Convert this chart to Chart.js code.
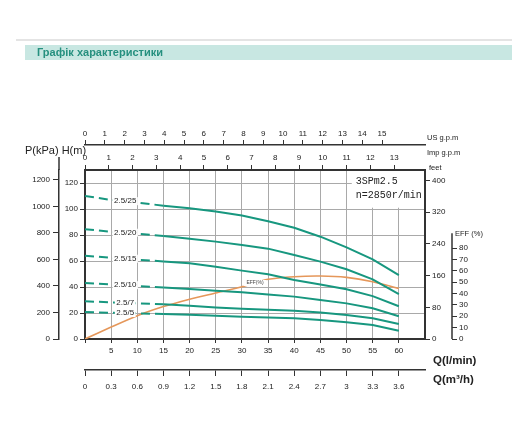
<!DOCTYPE html>
<html>
<head>
<meta charset="utf-8">
<script src="https://cdn.jsdelivr.net/npm/chart.js@4.4.1/dist/chart.umd.min.js"></script>
<style>
  html, body { margin: 0; padding: 0; background: #ffffff; }
  #wrap { position: relative; width: 512px; height: 428px; }
</style>
</head>
<body>
<div id="wrap"><canvas id="c" width="512" height="428"></canvas></div>
<script>
// ---------------- DATA ----------------
const TITLE = 'Графік характеристики';
const MODEL = '3SPm2.5';
const SPEED = 'n=2850r/min';

const Q_LPM = [0, 5, 10, 15, 20, 25, 30, 35, 40, 45, 50, 55, 60];
const CURVE_NAMES = ['2.5/25', '2.5/20', '2.5/15', '2.5/10', '2.5/7', '2.5/5'];
const H_25 = [110, 107, 105, 102.5, 100.5, 98, 95, 90.5, 85.6, 78.7, 70.5, 61.3, 49.2];
const H_20 = [84.5, 82.5, 81, 79.2, 77.2, 74.9, 72.3, 69.5, 64.6, 59.5, 53.6, 45.9, 34.6];
const H_15 = [64, 62.5, 61, 59.7, 58.2, 55.6, 52.6, 49.8, 45.4, 42, 38.2, 33, 25.2];
const H_10 = [43, 42, 40.8, 39.7, 38.5, 37.2, 35.9, 34.3, 32.6, 30, 27.4, 23.6, 17.5];
const H_7  = [29, 28.2, 27.4, 26.7, 25.6, 24.3, 23.3, 22.5, 21.8, 20.3, 18.5, 15.9, 11.5];
const H_5  = [20.8, 20.2, 19.7, 19.2, 18.7, 17.9, 17.2, 16.5, 15.9, 14.6, 12.8, 10.8, 6.3];
const EFF  = [0, 10.5, 20.5, 28.5, 35, 40.5, 46, 52.5, 54.8, 55.4, 54.2, 50.4, 44.5];

// tick labels of every axis
const LPM_TICKS = [0, 5, 10, 15, 20, 25, 30, 35, 40, 45, 50, 55, 60];
const M3H_TICKS = [0, 0.3, 0.6, 0.9, 1.2, 1.5, 1.8, 2.1, 2.4, 2.7, 3, 3.3, 3.6];
const USGPM_TICKS = [0, 1, 2, 3, 4, 5, 6, 7, 8, 9, 10, 11, 12, 13, 14, 15];
const IMPGPM_TICKS = [0, 1, 2, 3, 4, 5, 6, 7, 8, 9, 10, 11, 12, 13];
const H_TICKS = [0, 20, 40, 60, 80, 100, 120];
const KPA_TICKS = [0, 200, 400, 600, 800, 1000, 1200];
const FEET_TICKS = [0, 80, 160, 240, 320, 400];
const EFF_TICKS = [0, 10, 20, 30, 40, 50, 60, 70, 80];

// axis ranges and unit conversions
const Q_MAX = 65;          // l/min at right edge of plot
const H_MAX = 130;         // m at top edge of plot
const EFF_MAX = 148.6;     // % at top edge of plot
const EFF_AXIS_TOP = 93;   // % where EFF axis line ends
const LPM_TO_M3H = 0.06;
const LPM_PER_USGPM = 3.78541;
const LPM_PER_IMPGPM = 4.54609;
const M_TO_KPA = 9.80665;
const M_TO_FEET = 3.28084;
const DASH_END_Q = 15;     // curves dashed up to this flow
const INFO_BOX_Q = 51;     // white box for model text
const INFO_BOX_H = 101;

// ---------------- STYLE ----------------
const TEAL = '#17977f';
const ORANGE = '#e5975a';
const GRID = '#a9a9a9';
const AXIS = '#333333';
const TXT = '#222222';
const FONT = '"Liberation Sans", Arial, sans-serif';

Chart.defaults.font.family = FONT;
Chart.defaults.font.size = 8;
Chart.defaults.color = TXT;

const H_SERIES = [H_25, H_20, H_15, H_10, H_7, H_5];

const datasets = H_SERIES.map((arr, i) => ({
  label: CURVE_NAMES[i],
  data: Q_LPM.map((q, k) => ({ x: q, y: arr[k] })),
  xAxisID: 'x', yAxisID: 'y',
  borderColor: TEAL, borderWidth: 2, pointRadius: 0, tension: 0, fill: false,
  segment: { borderDash: ctx => (ctx.p1.parsed.x <= DASH_END_Q ? [9, 5] : undefined) }
}));
datasets.push({
  label: 'EFF(%)',
  data: Q_LPM.map((q, k) => ({ x: q, y: EFF[k] })),
  xAxisID: 'x', yAxisID: 'yEff',
  borderColor: ORANGE, borderWidth: 1.6, pointRadius: 0, tension: 0.25, fill: false
});

function setTicks(arr) { return scale => { scale.ticks = arr.map(v => ({ value: v })); }; }
function fixW(w) { return scale => { scale.width = w; }; }
function fixH(h) { return scale => { scale.height = h; }; }

const secondaryGrid = { drawOnChartArea: false, tickLength: 5, tickColor: AXIS, lineWidth: 1 };

const decoPlugin = {
  id: 'deco',
  beforeDraw(chart) {
    const c = chart.ctx;
    c.save();
    c.fillStyle = '#ffffff';
    c.fillRect(0, 0, chart.width, chart.height);
    // title band
    c.fillStyle = '#e4e4e4';
    c.fillRect(16, 39, chart.width - 16, 2);
    c.fillStyle = '#c8e7e2';
    c.fillRect(25, 45, chart.width - 25, 15);
    c.fillStyle = '#26907f';
    c.font = 'bold 11px ' + FONT;
    c.textBaseline = 'middle';
    c.textAlign = 'left';
    c.fillText(TITLE, 37, 52.5);
    c.restore();
  },
  beforeDatasetsDraw(chart) {
    const c = chart.ctx, s = chart.scales;
    const x0 = s.x.getPixelForValue(INFO_BOX_Q);
    const y0 = s.y.getPixelForValue(INFO_BOX_H);
    c.save();
    c.fillStyle = '#ffffff';
    c.fillRect(x0, chart.chartArea.top + 1, chart.chartArea.right - x0 - 1, y0 - chart.chartArea.top - 1);
    c.restore();
  },
  afterDatasetsDraw(chart) {
    const c = chart.ctx, s = chart.scales, ca = chart.chartArea;
    c.save();
    // curve labels on dashed parts
    c.font = '8px ' + FONT;
    c.textAlign = 'center';
    c.textBaseline = 'middle';
    for (let i = 0; i < CURVE_NAMES.length; i++) {
      const pts = chart.getDatasetMeta(i).data;
      const px = (pts[1].x + pts[2].x) / 2 + 1;
      const py = (pts[1].y + pts[2].y) / 2;
      const w = c.measureText(CURVE_NAMES[i]).width;
      c.fillStyle = '#ffffff';
      c.fillRect(px - w / 2 - 1.5, py - 4, w + 3, 8);
      c.fillStyle = TXT;
      c.fillText(CURVE_NAMES[i], px, py);
    }
    // efficiency label
    const ep = chart.getDatasetMeta(CURVE_NAMES.length).data;
    const ex = (ep[6].x + ep[7].x) / 2, ey = (ep[6].y + ep[7].y) / 2;
    c.font = '5px ' + FONT;
    const ew = c.measureText('EFF(%)').width;
    c.fillStyle = '#ffffff';
    c.fillRect(ex - ew / 2 - 3, ey - 3, ew + 6, 6);
    c.fillStyle = '#444';
    c.fillText('EFF(%)', ex, ey);

    // model text
    c.textAlign = 'left';
    c.fillStyle = TXT;
    c.font = '10px "Liberation Mono", monospace';
    c.fillText(MODEL, s.x.getPixelForValue(INFO_BOX_Q) + 4, ca.top + 11);
    c.fillText(SPEED, s.x.getPixelForValue(INFO_BOX_Q) + 4, ca.top + 25);

    // EFF axis line
    const ea = s.yEff;
    c.strokeStyle = AXIS;
    c.lineWidth = 1.5;
    c.beginPath();
    c.moveTo(ea.left, ea.getPixelForValue(0));
    c.lineTo(ea.left, ea.getPixelForValue(EFF_AXIS_TOP));
    c.stroke();
    // kPa axis extension
    const ka = s.yKPa;
    c.beginPath();
    c.moveTo(ka.right, ca.top);
    c.lineTo(ka.right, ca.top - 13);
    c.stroke();

    // axis titles
    c.font = '11px ' + FONT;
    c.textBaseline = 'middle';
    c.fillStyle = TXT;
    c.fillText('P(kPa) H(m)', ka.left + 6, s.xUS.bottom + 6);
    c.font = '7.5px ' + FONT;
    c.fillText('US g.p.m', s.xUS.right + 2, s.xUS.bottom - 7);
    c.fillText('Imp g.p.m', s.xImp.right + 2, s.xImp.top + 8);
    c.fillText('feet', s.yFeet.left + 4, ca.top - 2);
    c.fillText('EFF (%)', ea.left + 3, ea.getPixelForValue(EFF_AXIS_TOP) + 1);
    c.font = 'bold 11.5px ' + FONT;
    c.fillText('Q(l/min)', s.x.right + 8, s.x.bottom - 9);
    c.fillText('Q(m\u00B3/h)', s.x2.right + 8, s.x2.top + 10);
    c.restore();
  }
};

new Chart(document.getElementById('c'), {
  type: 'line',
  data: { datasets },
  options: {
    responsive: false,
    animation: false,
    events: [],
    layout: { padding: { left: 19, right: 20, top: 125, bottom: 28 } },
    plugins: { legend: { display: false }, tooltip: { enabled: false } },
    scales: {
      x: {
        type: 'linear', position: 'bottom', weight: 0, min: 0, max: Q_MAX,
        afterBuildTicks: setTicks(LPM_TICKS), afterFit: fixH(31),
        grid: { color: GRID, lineWidth: 1, tickLength: 4, tickColor: AXIS },
        border: { color: AXIS, width: 2 },
        ticks: { autoSkip: false, maxRotation: 0, padding: 3, callback: v => (v === 0 ? '' : String(v)) }
      },
      y: {
        type: 'linear', position: 'left', weight: 0, min: 0, max: H_MAX,
        afterBuildTicks: setTicks(H_TICKS), afterFit: fixW(26),
        grid: { color: GRID, lineWidth: 1, tickLength: 5, tickColor: AXIS },
        border: { color: AXIS, width: 2 },
        ticks: { autoSkip: false, padding: 2, callback: v => String(v) }
      },
      x2: {
        type: 'linear', position: 'bottom', weight: 1, min: 0, max: Q_MAX * LPM_TO_M3H,
        afterBuildTicks: setTicks(M3H_TICKS), afterFit: fixH(30),
        grid: Object.assign({}, secondaryGrid, { tickLength: 6 }),
        border: { color: AXIS, width: 1.5 },
        ticks: { autoSkip: false, maxRotation: 0, padding: 6, callback: v => String(v) }
      },
      yKPa: {
        type: 'linear', position: 'left', weight: 1, min: 0, max: H_MAX * M_TO_KPA,
        afterBuildTicks: setTicks(KPA_TICKS), afterFit: fixW(40),
        grid: Object.assign({}, secondaryGrid, { tickLength: 6 }),
        border: { color: AXIS, width: 1.5 },
        ticks: { autoSkip: false, padding: 3, callback: v => String(v) }
      },
      xImp: {
        type: 'linear', position: 'top', weight: 0, min: 0, max: Q_MAX / LPM_PER_IMPGPM,
        afterBuildTicks: setTicks(IMPGPM_TICKS), afterFit: fixH(25),
        grid: secondaryGrid,
        border: { color: AXIS, width: 2 },
        ticks: { autoSkip: false, maxRotation: 0, padding: 2, callback: v => String(v) }
      },
      xUS: {
        type: 'linear', position: 'top', weight: 1, min: 0, max: Q_MAX / LPM_PER_USGPM,
        afterBuildTicks: setTicks(USGPM_TICKS), afterFit: fixH(20),
        grid: secondaryGrid,
        border: { color: AXIS, width: 1.5 },
        ticks: { autoSkip: false, maxRotation: 0, padding: 1, callback: v => String(v) }
      },
      yFeet: {
        type: 'linear', position: 'right', weight: 0, min: 0, max: H_MAX * M_TO_FEET,
        afterBuildTicks: setTicks(FEET_TICKS), afterFit: fixW(27),
        grid: secondaryGrid,
        border: { color: AXIS, width: 2 },
        ticks: { autoSkip: false, padding: 2, callback: v => String(v) }
      },
      yEff: {
        type: 'linear', position: 'right', weight: 1, min: 0, max: EFF_MAX,
        afterBuildTicks: setTicks(EFF_TICKS), afterFit: fixW(40),
        grid: secondaryGrid,
        border: { display: false },
        ticks: { autoSkip: false, padding: 2, callback: v => String(v) }
      }
    }
  },
  plugins: [decoPlugin]
});
</script>
</body>
</html>
